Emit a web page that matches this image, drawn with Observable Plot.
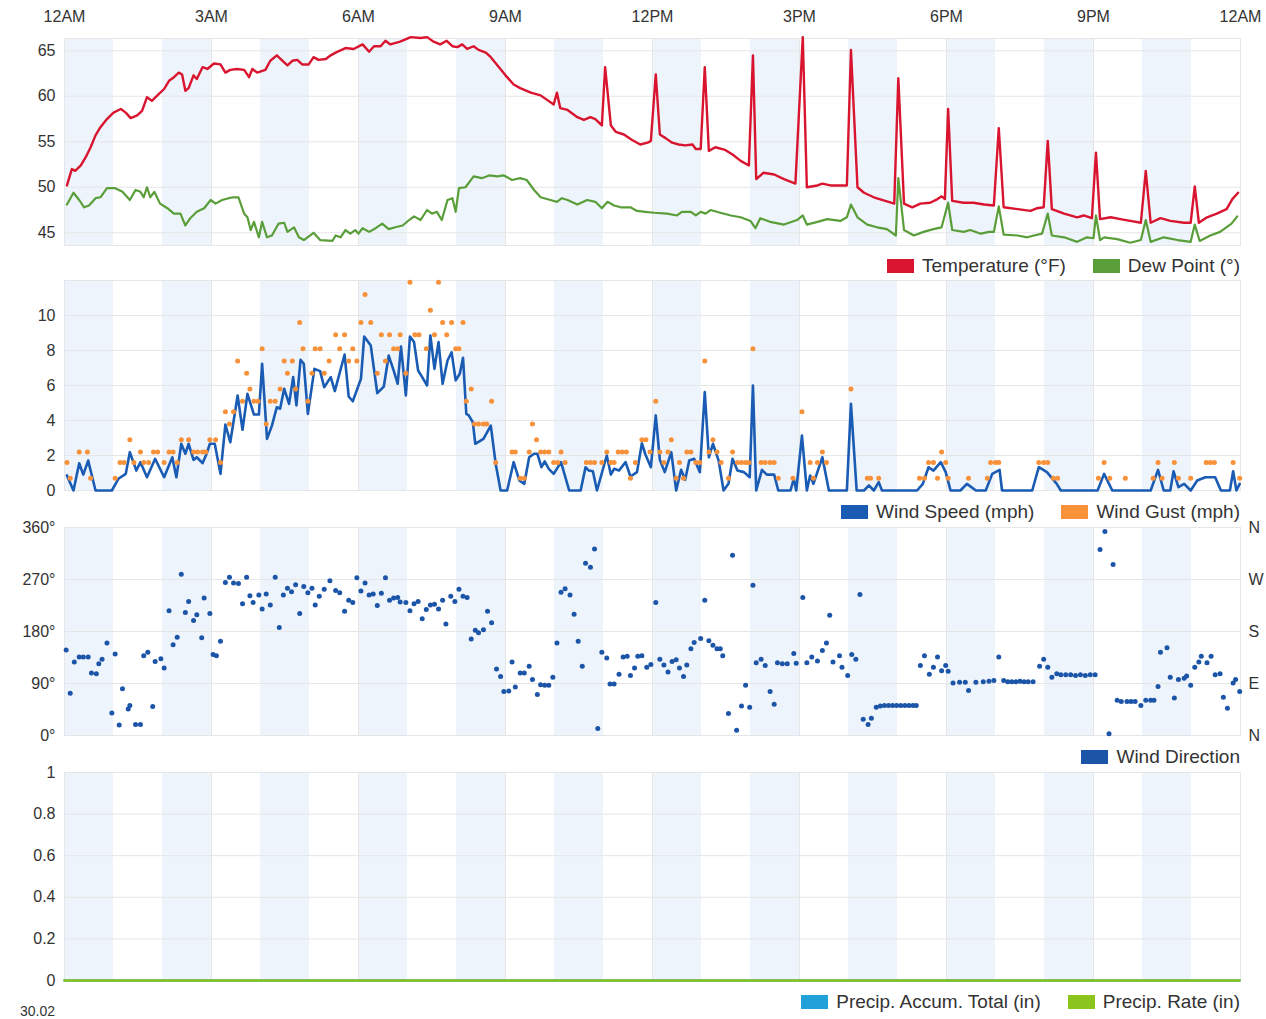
<!DOCTYPE html>
<html>
<head>
<meta charset="utf-8">
<script src="https://cdn.jsdelivr.net/npm/d3@7"></script>
<script src="https://cdn.jsdelivr.net/npm/@observablehq/plot@0.6"></script>
<style>
  body { margin: 0; background: #fff; }
  #chart { position: relative; width: 1266px; height: 1019px; overflow: hidden; font-family: Arial, "Liberation Sans", sans-serif; color: #333; }
  .panel { position: absolute; left: 0; }
  .legend { position: absolute; right: 26px; display: flex; align-items: center; font-size: 19px; color: #333; white-space: nowrap; }
  .legend .item { display: flex; align-items: center; margin-left: 27px; }
  .legend .sw { width: 27px; height: 14px; margin-right: 8px; }
  .cut { position: absolute; left: 0; width: 55px; text-align: right; font-size: 14px; line-height: 14px; }
</style>
</head>
<body>
<div id="chart"></div>
<script>
// ---- time axis ----
const tickLabels = ["12AM", "3AM", "6AM", "9AM", "12PM", "3PM", "6PM", "9PM", "12AM"];
const stripeHours = [0, 2, 4, 6, 8, 10, 12, 14, 16, 18, 20, 22];

// ---- readings: [minutes after midnight, value] ----
const temperature = [[3,50.2],[9,52.0],[13,51.8],[20,52.4],[26,53.3],[32,54.4],[38,55.7],[44,56.6],[52,57.5],[60,58.2],[69,58.6],[75,58.2],[81,57.6],[89,57.9],[95,58.4],[101,59.9],[107,59.5],[115,60.2],[122,60.8],[128,61.7],[134,62.1],[140,62.6],[144,62.4],[148,60.6],[152,60.9],[158,62.3],[162,61.9],[169,63.2],[175,63.0],[183,63.6],[191,63.5],[197,62.6],[203,62.9],[211,63.0],[220,62.9],[226,62.1],[230,63.0],[236,62.6],[246,62.9],[252,63.9],[260,64.5],[267,63.9],[273,63.4],[279,63.9],[285,64.0],[291,63.5],[299,63.5],[305,64.3],[311,64.0],[320,64.1],[326,64.5],[332,64.8],[344,65.3],[354,65.2],[365,65.7],[373,64.9],[379,65.5],[387,65.5],[393,66.1],[399,65.7],[411,66.0],[424,66.5],[436,66.4],[444,66.5],[452,66.0],[460,65.7],[468,66.1],[475,65.5],[481,65.4],[487,65.7],[493,65.2],[501,65.5],[507,65.1],[516,64.8],[522,64.3],[530,63.4],[540,62.3],[550,61.3],[558,60.9],[571,60.4],[583,60.1],[599,59.1],[603,60.4],[607,58.7],[616,58.5],[628,57.7],[636,57.4],[644,57.7],[650,57.5],[658,56.8],[662,63.2],[669,56.8],[675,56.1],[685,55.8],[695,55.2],[705,54.7],[714,54.9],[718,55.1],[724,62.4],[729,55.8],[736,55.4],[744,54.9],[752,54.7],[760,54.6],[769,54.7],[773,54.2],[779,54.2],[784,63.2],[789,54.0],[797,54.4],[809,54.1],[818,53.6],[828,52.9],[838,52.4],[843,64.5],[847,50.9],[856,51.6],[869,51.4],[881,50.9],[895,50.4],[904,66.5],[909,50.0],[922,50.2],[928,50.4],[938,50.2],[958,50.2],[963,65.1],[971,50.0],[979,49.4],[991,48.9],[1005,48.5],[1016,48.2],[1021,62.0],[1028,48.2],[1038,47.8],[1048,48.2],[1060,48.3],[1069,48.7],[1074,49.0],[1078,48.7],[1082,58.6],[1087,48.5],[1101,48.3],[1113,48.3],[1126,48.1],[1138,48.0],[1144,56.5],[1150,47.8],[1167,47.6],[1183,47.4],[1191,47.7],[1199,47.8],[1204,55.1],[1209,47.6],[1224,47.1],[1240,46.7],[1248,46.9],[1258,46.6],[1263,53.8],[1268,46.5],[1281,46.7],[1293,46.5],[1305,46.3],[1318,46.1],[1324,51.8],[1330,46.1],[1342,46.6],[1354,46.3],[1371,46.1],[1379,46.1],[1384,50.1],[1389,46.1],[1399,46.7],[1411,47.1],[1423,47.6],[1430,48.7],[1437,49.4]];

const dewPoint = [[3,48.1],[11,49.4],[18,48.6],[24,47.8],[30,48.0],[38,48.8],[44,48.9],[52,49.9],[62,49.9],[71,49.5],[80,48.6],[87,49.7],[93,49.5],[97,48.9],[101,50.0],[105,48.9],[110,49.5],[117,48.2],[126,47.7],[134,47.1],[142,47.1],[148,45.8],[154,46.6],[162,47.3],[171,47.7],[179,48.6],[185,48.2],[193,48.6],[201,48.8],[207,48.9],[213,48.9],[220,47.1],[224,46.7],[228,45.3],[232,46.2],[238,44.5],[242,46.2],[248,44.5],[254,44.7],[262,46.0],[269,46.1],[273,45.1],[281,45.6],[287,44.5],[293,44.2],[305,45.0],[313,44.2],[328,44.1],[332,44.7],[338,44.5],[344,45.3],[350,44.9],[356,45.3],[360,44.9],[365,45.5],[373,45.1],[381,45.5],[389,46.0],[397,45.4],[405,45.6],[414,45.8],[422,46.4],[428,46.8],[436,46.4],[444,47.5],[450,47.1],[456,47.3],[462,46.4],[469,48.6],[475,48.8],[479,47.3],[483,49.9],[491,50.0],[501,51.2],[511,51.0],[520,51.3],[530,51.2],[538,51.3],[548,50.8],[558,51.0],[566,50.8],[575,49.7],[583,48.9],[595,48.6],[603,48.4],[609,48.8],[616,48.6],[628,48.1],[640,48.6],[650,48.4],[658,47.7],[665,48.4],[673,48.0],[681,47.8],[693,47.8],[701,47.4],[711,47.3],[722,47.2],[738,47.1],[750,46.9],[756,47.3],[767,47.3],[773,46.9],[779,47.3],[785,47.1],[791,47.5],[803,47.2],[816,46.9],[828,46.7],[840,46.3],[846,45.5],[852,46.6],[864,46.2],[881,45.9],[897,46.4],[904,46.9],[909,45.9],[922,46.2],[934,46.5],[950,46.3],[958,46.7],[963,48.1],[971,46.7],[983,45.9],[995,45.6],[1007,45.4],[1018,44.7],[1021,51.0],[1028,45.3],[1040,44.7],[1052,45.1],[1064,45.4],[1074,45.6],[1082,48.3],[1087,45.3],[1101,45.1],[1109,45.3],[1122,44.9],[1132,45.1],[1138,45.1],[1144,47.9],[1150,44.8],[1167,44.7],[1179,44.5],[1187,44.7],[1197,44.9],[1204,47.1],[1209,44.7],[1224,44.5],[1240,44.0],[1252,44.5],[1260,44.4],[1263,46.9],[1268,44.2],[1273,44.5],[1289,44.3],[1305,43.9],[1318,44.2],[1324,46.4],[1330,44.0],[1346,44.5],[1363,44.2],[1379,44.0],[1384,45.9],[1390,44.1],[1403,44.7],[1415,45.1],[1429,46.0],[1436,46.8]];

const windSpeed = [[3,0.86],[11,0],[18,1.56],[23,0.91],[29,1.71],[38,0],[58,0],[66,0.67],[75,0.95],[80,2.19],[88,1.14],[93,1.62],[101,0.76],[111,1.81],[122,0.76],[132,1.9],[137,0.76],[143,2.67],[148,2.1],[152,2.67],[158,1.75],[162,1.9],[169,1.56],[174,2.1],[178,2.67],[184,2.67],[191,0.95],[197,3.77],[203,2.76],[212,5.43],[218,3.47],[224,5.52],[232,4.34],[238,4.34],[242,7.24],[248,2.95],[254,3.71],[260,4.76],[264,4.67],[269,5.81],[275,4.95],[280,6.48],[284,4.86],[289,7.47],[293,7.24],[298,4.38],[306,6.95],[313,6.82],[318,5.9],[326,6.48],[331,5.68],[343,7.77],[348,5.37],[353,5.1],[363,6.38],[367,8.8],[375,8.29],[383,5.56],[391,5.94],[397,7.71],[403,6.86],[408,6.1],[412,8.23],[418,5.43],[423,8.8],[428,8.48],[433,6.86],[438,6.48],[444,6.0],[448,8.86],[453,6.95],[458,8.48],[463,6.1],[469,7.43],[474,7.9],[479,6.29],[484,6.67],[488,7.58],[492,4.38],[495,4.29],[500,3.9],[503,2.67],[513,2.95],[522,3.71],[528,1.52],[534,0],[542,0],[550,1.62],[557,0.57],[563,0.38],[569,1.9],[575,2.1],[579,2.1],[584,1.33],[588,1.67],[593,1.24],[599,0.95],[608,1.62],[618,0],[632,0],[638,1.33],[642,1.14],[647,1.1],[652,0],[664,2.0],[669,0.91],[673,1.24],[679,1.14],[687,1.62],[693,0.8],[701,1.05],[707,2.7],[711,2.1],[718,1.33],[724,4.29],[729,1.75],[735,1.05],[743,2.19],[749,0],[755,1.18],[760,0.61],[765,1.71],[771,1.81],[778,1.05],[784,5.62],[789,1.9],[794,2.67],[801,1.71],[807,0],[813,0.38],[818,1.81],[824,1.14],[832,1.05],[839,0.76],[843,6.0],[847,0],[854,1.18],[860,0.91],[869,0.91],[874,0],[889,0],[893,0.67],[896,0],[903,3.14],[909,0],[913,0.86],[917,0.38],[928,1.9],[936,0],[958,0],[963,4.95],[970,0],[979,0],[985,0.29],[991,0],[997,0.48],[1001,0],[1044,0],[1051,0.38],[1058,1.33],[1064,1.14],[1073,1.62],[1079,1.05],[1085,0],[1097,0],[1105,0.38],[1116,0],[1128,0],[1136,0.95],[1145,1.18],[1148,0],[1185,0],[1193,1.33],[1203,1.05],[1215,0.38],[1220,0],[1265,0],[1273,0.95],[1283,0],[1330,0],[1339,1.18],[1346,0],[1354,0],[1358,1.1],[1364,0.19],[1371,0.38],[1379,0],[1387,0.57],[1397,0.76],[1409,0.76],[1416,0],[1427,0],[1431,1.1],[1435,0],[1439,0.38]];

const windGust = [[3,1.6],[7,0.7],[18,2.2],[28,2.2],[32,0.7],[62,0.7],[68,1.6],[73,1.6],[80,2.9],[85,1.6],[93,2.2],[97,1.6],[103,1.6],[109,2.2],[114,2.2],[122,1.6],[128,2.2],[133,2.2],[138,1.6],[143,2.9],[152,2.9],[158,2.2],[163,2.2],[169,2.2],[173,2.2],[178,2.9],[185,2.9],[191,1.6],[197,4.5],[202,3.8],[207,4.5],[212,7.4],[218,5.1],[223,6.7],[227,5.8],[232,5.1],[237,5.1],[242,8.1],[247,3.8],[252,5.1],[258,5.1],[264,5.8],[269,7.4],[273,6.7],[279,7.4],[283,5.8],[288,9.6],[292,8.1],[298,5.1],[303,6.7],[307,8.1],[313,8.1],[318,6.7],[324,7.4],[332,8.9],[337,8.1],[343,8.9],[348,7.4],[353,8.1],[358,7.4],[363,9.6],[368,11.2],[375,9.6],[383,6.7],[388,8.9],[393,7.4],[398,8.9],[403,8.1],[408,8.1],[411,8.9],[418,6.7],[423,11.9],[429,8.9],[434,8.9],[443,8.1],[448,10.3],[453,8.9],[458,11.9],[463,9.6],[468,8.9],[474,9.6],[479,8.1],[483,8.1],[488,9.6],[492,5.1],[498,5.8],[502,3.8],[507,3.8],[513,3.8],[517,3.8],[523,5.1],[528,1.6],[548,2.2],[552,2.2],[558,0.7],[563,0.7],[569,2.2],[573,3.8],[578,2.9],[583,2.2],[588,2.2],[593,2.2],[599,1.6],[604,1.6],[608,2.2],[613,1.6],[639,1.6],[644,1.6],[649,1.6],[658,1.6],[664,2.2],[669,1.6],[673,1.6],[678,2.2],[683,2.2],[688,2.2],[693,0.7],[699,1.6],[707,2.9],[712,2.9],[717,2.2],[724,5.1],[729,2.2],[734,1.6],[739,2.2],[743,2.9],[749,0.7],[753,1.6],[758,0.7],[762,2.2],[767,2.2],[773,1.6],[778,1.6],[784,7.4],[789,2.2],[794,2.9],[799,2.2],[804,1.6],[813,0.7],[818,2.2],[824,1.6],[829,1.6],[834,1.6],[838,1.6],[843,8.1],[853,1.6],[858,1.6],[864,1.6],[869,1.6],[874,0.7],[892,0.7],[903,4.5],[913,1.6],[917,0.7],[922,1.6],[928,2.2],[933,1.6],[963,5.8],[983,0.7],[987,0.7],[997,0.7],[1047,0.7],[1053,0.7],[1058,1.6],[1064,1.6],[1069,0.7],[1074,2.2],[1079,1.6],[1082,0.7],[1107,0.7],[1130,0.7],[1134,1.6],[1140,1.6],[1144,1.6],[1193,1.6],[1199,1.6],[1204,1.6],[1211,0.7],[1216,0.7],[1266,0.7],[1273,1.6],[1280,0.7],[1299,0.7],[1333,0.7],[1339,1.6],[1344,0.7],[1359,1.6],[1364,0.7],[1379,0.7],[1398,1.6],[1403,1.6],[1408,1.6],[1431,1.6],[1439,0.7]];

const windDirection = [[2,148],[7,73],[12,127],[18,136],[23,136],[29,136],[33,108],[39,107],[42,124],[46,132],[52,160],[58,39],[62,141],[67,18],[71,81],[78,46],[80,52],[87,19],[93,19],[97,138],[102,144],[108,50],[111,128],[118,133],[122,117],[128,216],[133,157],[138,170],[143,279],[148,213],[152,232],[158,199],[162,209],[168,169],[171,238],[178,211],[182,140],[186,138],[191,163],[197,265],[202,274],[207,264],[213,263],[218,228],[223,274],[227,242],[231,230],[238,243],[242,219],[247,245],[252,226],[258,274],[263,187],[268,243],[273,255],[278,249],[283,261],[288,211],[293,258],[298,247],[303,255],[307,226],[312,241],[318,253],[325,268],[332,251],[337,247],[343,215],[348,234],[353,230],[358,273],[363,250],[368,264],[373,243],[378,245],[383,225],[388,246],[393,273],[398,234],[403,238],[408,239],[411,231],[418,230],[423,216],[428,228],[433,232],[438,202],[443,218],[448,226],[453,227],[458,219],[463,234],[467,193],[473,241],[478,232],[483,253],[488,241],[493,239],[498,167],[503,182],[507,178],[513,183],[518,215],[523,195],[529,115],[534,102],[538,76],[544,77],[548,127],[552,84],[558,108],[563,108],[569,120],[573,97],[579,71],[583,88],[588,87],[593,87],[598,101],[603,160],[608,248],[613,254],[619,243],[624,210],[629,163],[634,120],[638,298],[644,291],[649,323],[653,12],[658,144],[664,134],[668,89],[673,89],[679,106],[684,136],[689,137],[693,104],[698,117],[702,137],[707,138],[713,118],[718,123],[724,230],[729,132],[734,122],[739,110],[744,128],[749,131],[753,117],[758,102],[762,122],[767,150],[771,161],[779,168],[784,234],[789,164],[794,156],[799,150],[803,150],[806,138],[813,38],[818,312],[823,9],[829,51],[834,87],[839,49],[843,260],[847,126],[853,132],[858,121],[864,76],[869,54],[873,126],[879,124],[885,124],[893,142],[896,125],[904,239],[909,126],[915,136],[922,129],[928,147],[933,160],[937,208],[941,127],[949,138],[952,118],[959,104],[964,140],[969,132],[974,244],[978,28],[984,19],[988,30],[994,49],[999,51],[1004,52],[1009,52],[1014,52],[1019,52],[1024,52],[1029,52],[1034,52],[1039,52],[1043,52],[1048,121],[1053,138],[1059,106],[1064,118],[1069,136],[1074,112],[1079,121],[1082,111],[1088,91],[1096,92],[1103,92],[1107,78],[1116,92],[1125,93],[1132,94],[1138,95],[1144,136],[1150,95],[1155,93],[1160,93],[1165,93],[1170,94],[1175,93],[1180,93],[1186,93],[1194,120],[1199,132],[1204,118],[1209,101],[1215,107],[1220,105],[1226,105],[1232,105],[1238,104],[1244,105],[1250,104],[1256,105],[1262,105],[1268,322],[1274,353],[1279,3],[1284,296],[1289,61],[1294,59],[1301,59],[1306,59],[1311,59],[1318,52],[1324,61],[1330,61],[1334,61],[1339,85],[1342,144],[1350,152],[1354,101],[1359,65],[1364,97],[1371,99],[1374,103],[1379,87],[1384,118],[1389,127],[1392,137],[1399,126],[1404,137],[1409,105],[1415,107],[1419,66],[1424,47],[1431,91],[1434,97],[1439,76]];

const precipRate = [[0,0],[1439,0]];
const precipTotal = [[0,0],[1439,0]];

// ---- axis ticks ----
const tempTicks = [45, 50, 55, 60, 65];
const windTicks = [0, 2, 4, 6, 8, 10];
const dirTicks = [0, 90, 180, 270, 360];
const compassLabels = ["N", "E", "S", "W", "N"];
const precipTicks = [0, 0.2, 0.4, 0.6, 0.8, 1];

// ---- colours ----
const C = {
  temp: "#d9142f", dew: "#5a9e3a", speed: "#1a5bb3", gust: "#f7913a",
  dir: "#1c55a8", total: "#22a0d8", rate: "#8cc41e",
  stripe: "#eef4fb", grid: "#e6e6e6"
};

const day0 = Date.UTC(2021, 0, 1);
const at = m => new Date(day0 + m * 60000);
const xDomain = [at(0), at(1440)];
const threeHours = d3.range(0, 1441, 180).map(at);
const rows = arr => arr.map(([m, v]) => ({t: at(m), v}));

const FONT = "Arial, 'Liberation Sans', sans-serif";

function background() {
  return [
    Plot.rect(stripeHours, {x1: h => at(h * 60), x2: h => at(h * 60 + 60), fill: C.stripe}),
    Plot.ruleX(threeHours, {stroke: C.grid, strokeWidth: 1})
  ];
}

function panel({top, height, marginTop, y, marks, xAxis = false}) {
  const svg = Plot.plot({
    width: 1266, height,
    marginLeft: 64, marginRight: 26, marginTop, marginBottom: 5,
    style: {fontFamily: FONT, fontSize: "16px", color: "#333", background: "transparent", overflow: "visible"},
    x: xAxis ? {type: "utc", domain: xDomain} : {type: "utc", domain: xDomain, axis: null},
    y,
    marks: [...background(), ...marks]
  });
  svg.classList.add("panel");
  svg.style.top = top + "px";
  document.getElementById("chart").appendChild(svg);
}

function legend(centerY, items) {
  const div = document.createElement("div");
  div.className = "legend";
  div.style.top = (centerY - 11) + "px";
  div.style.height = "22px";
  for (const [color, text] of items) {
    const item = document.createElement("div");
    item.className = "item";
    const sw = document.createElement("div");
    sw.className = "sw";
    sw.style.background = color;
    const label = document.createElement("span");
    label.textContent = text;
    item.append(sw, label);
    div.appendChild(item);
  }
  document.getElementById("chart").appendChild(div);
}

const hourLabel = d => tickLabels[Math.round((d - day0) / 3600000 / 3)];

// Temperature and dew point
panel({
  top: 0, height: 250, marginTop: 38, xAxis: true,
  y: {domain: [43.6, 66.35]},
  marks: [
    Plot.ruleY(tempTicks, {stroke: C.grid}),
    Plot.frame({stroke: C.grid}),
    Plot.axisX(threeHours, {anchor: "top", tickSize: 0, tickPadding: 17, tickFormat: hourLabel, label: null, fill: "#333"}),
    Plot.axisY(tempTicks, {tickSize: 0, tickPadding: 9, label: null, fill: "#333"}),
    Plot.line(rows(dewPoint), {x: "t", y: "v", stroke: C.dew, strokeWidth: 2.2}),
    Plot.line(rows(temperature), {x: "t", y: "v", stroke: C.temp, strokeWidth: 2.4})
  ]
});
legend(266, [[C.temp, "Temperature (°F)"], [C.dew, "Dew Point (°)"]]);

// Wind speed and gust
panel({
  top: 275, height: 220, marginTop: 5,
  y: {domain: [0, 12]},
  marks: [
    Plot.ruleY(windTicks, {stroke: C.grid}),
    Plot.frame({stroke: C.grid}),
    Plot.axisY(windTicks, {tickSize: 0, tickPadding: 9, label: null, fill: "#333"}),
    Plot.line(rows(windSpeed), {x: "t", y: "v", stroke: C.speed, strokeWidth: 2.6}),
    Plot.dot(rows(windGust), {x: "t", y: "v", r: 2.5, fill: C.gust, stroke: "none"})
  ]
});
legend(512, [[C.speed, "Wind Speed (mph)"], [C.gust, "Wind Gust (mph)"]]);

// Wind direction
panel({
  top: 517, height: 223, marginTop: 10,
  y: {domain: [0, 360]},
  marks: [
    Plot.ruleY(dirTicks, {stroke: C.grid}),
    Plot.frame({stroke: C.grid}),
    Plot.axisY(dirTicks, {tickSize: 0, tickPadding: 9, label: null, tickFormat: d => d + "°", fill: "#333"}),
    Plot.axisY(dirTicks, {anchor: "right", tickSize: 0, tickPadding: 8, label: null, tickFormat: d => compassLabels[d / 90], fill: "#333"}),
    Plot.dot(rows(windDirection), {x: "t", y: "v", r: 2.5, fill: C.dir, stroke: "none"})
  ]
});
legend(757, [[C.dir, "Wind Direction"]]);

// Precipitation
panel({
  top: 762, height: 223, marginTop: 10,
  y: {domain: [0, 1]},
  marks: [
    Plot.ruleY(precipTicks, {stroke: C.grid}),
    Plot.frame({stroke: C.grid}),
    Plot.axisY(precipTicks, {tickSize: 0, tickPadding: 9, label: null, tickFormat: d => String(d), fill: "#333"}),
    Plot.line(rows(precipTotal), {x: "t", y: "v", stroke: C.total, strokeWidth: 2.5}),
    Plot.line(rows(precipRate), {x: "t", y: "v", stroke: C.rate, strokeWidth: 2.5})
  ]
});
legend(1002, [[C.total, "Precip. Accum. Total (in)"], [C.rate, "Precip. Rate (in)"]]);

// first tick of the pressure panel that follows
const cut = document.createElement("div");
cut.className = "cut";
cut.style.top = "1004px";
cut.textContent = "30.02";
document.getElementById("chart").appendChild(cut);
</script>
</body>
</html>
